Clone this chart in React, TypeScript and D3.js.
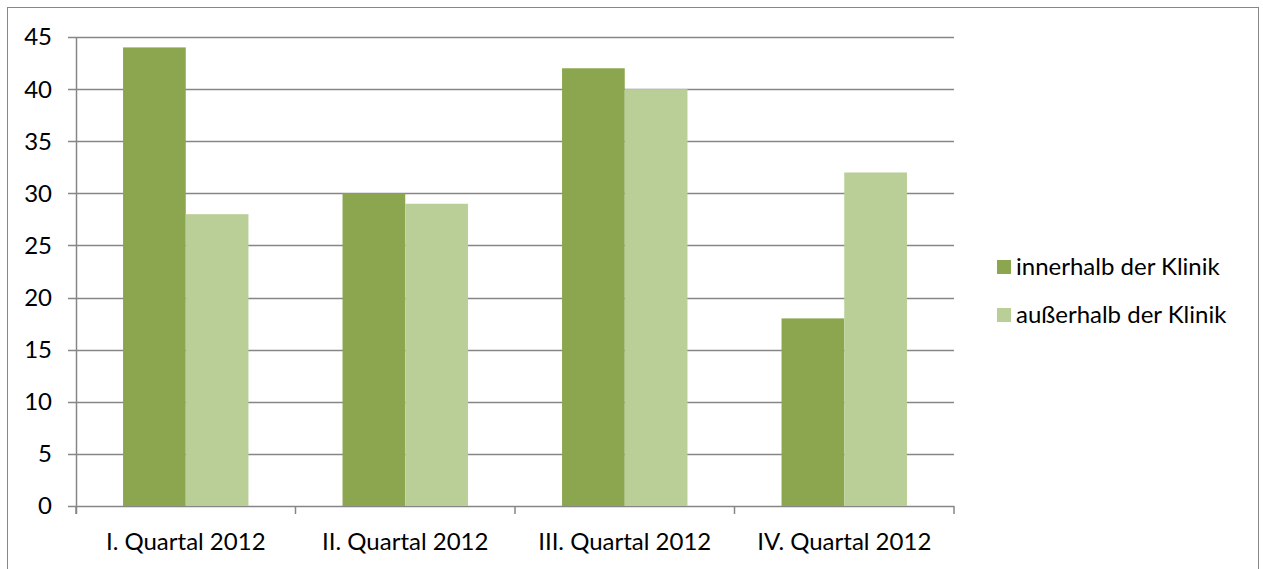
import React from "react";
import * as d3 from "d3";

const categories = ["I. Quartal 2012", "II. Quartal 2012", "III. Quartal 2012", "IV. Quartal 2012"];
const seriesNames = ["innerhalb der Klinik", "außerhalb der Klinik"];
const innerhalb = [44, 30, 42, 18];
const ausserhalb = [28, 29, 40, 32];
const yTicks = [0, 5, 10, 15, 20, 25, 30, 35, 40, 45];
const colors = ["#8BA64F", "#BACF97"];

export default function App() {
  const W = 1263, H = 569;
  const left = 76, right = 954, top = 37, bottom = 506;
  const y = d3.scaleLinear().domain([0, 45]).range([bottom, top]);
  const x0 = d3.scaleBand().domain(categories).range([left, right]).paddingInner(0.4286).paddingOuter(0.2143);
  const x1 = d3.scaleBand().domain(seriesNames).range([0, x0.bandwidth()]);
  const series = [innerhalb, ausserhalb];
  const font = "Lato, sans-serif";
  const fs = 24;
  const stepW = (right - left) / categories.length;
  return (
    <svg width={W} height={H} style={{ position: "absolute", left: 0, top: 0, display: "block" }}>
      <rect x={0} y={0} width={W} height={H} fill="#fff" />
      <rect x={7.5} y={7.5} width={1251} height={570} fill="none" stroke="#888" strokeWidth={1} />
      {yTicks.map((t) => (
        <g key={t}>
          <line x1={68} x2={right} y1={Math.round(y(t)) + 0.5} y2={Math.round(y(t)) + 0.5} stroke="#868686" strokeWidth={1.5} />
          <text x={52} y={y(t)} dy="0.35em" textAnchor="end" fontFamily={font} fontSize={fs} fill="#000">{t}</text>
        </g>
      ))}
      <line x1={left + 0.5} x2={left + 0.5} y1={top} y2={bottom + 8} stroke="#868686" strokeWidth={1.5} />
      {d3.range(categories.length + 1).map((i) => (
        <line key={i} x1={left + i * stepW} x2={left + i * stepW} y1={bottom} y2={bottom + 8} stroke="#868686" strokeWidth={1.5} />
      ))}
      {categories.map((c, i) => (
        <g key={c}>
          {series.map((s, j) => (
            <rect key={j} x={(x0(c) as number) + (x1(seriesNames[j]) as number)} y={y(s[i])} width={x1.bandwidth()} height={bottom - y(s[i])} fill={colors[j]} />
          ))}
          <text x={(x0(c) as number) + x0.bandwidth() / 2} y={542} dy="0.35em" textAnchor="middle" fontFamily={font} fontSize={fs} fill="#000">{c}</text>
        </g>
      ))}
      {seriesNames.map((n, j) => (
        <g key={n} transform={`translate(997, ${267 + j * 48})`}>
          <rect x={0} y={-7} width={14} height={14} fill={colors[j]} />
          <text x={19} y={0} dy="0.35em" fontFamily={font} fontSize={fs} fill="#000">{n}</text>
        </g>
      ))}
    </svg>
  );
}
